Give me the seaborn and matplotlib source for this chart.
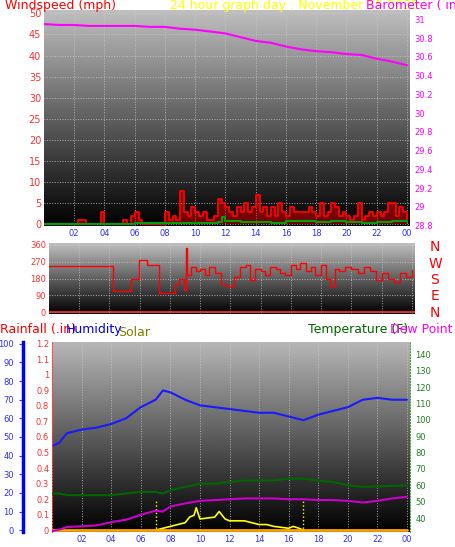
import numpy as np
import pandas as pd
import matplotlib
matplotlib.use("Agg")
import matplotlib.pyplot as plt
import seaborn as sns

sns.set_style("white")
plt.rcParams['font.family'] = ['DejaVu Sans']

# ---------------- data ----------------
wind_t = [i * 0.25 for i in range(97)]
wind_gust = [0,0,0,0,0,0,0,0,0,1,1,0,0,0,0,3,0,0,0,0,0,1,0,2,3,1,0,0,0,0,0,0,
             3,1,2,1,8,3,2,4,3,2,3,1,1,2,6,5,4,3,2,4,3,5,3,4,7,3,4,2,4,2,5,3,
             2,4,3,3,3,3,4,3,2,5,2,3,5,4,2,3,2,1,2,5,1,2,3,2,3,2,3,5,5,2,4,3,1]
avg_t = [0, 6, 9, 11.5, 11.75, 12, 13, 14, 15, 16, 17, 18, 19, 20, 21, 22, 23, 24]
wind_avg = [0, 0.2, 0.3, 0.6, 1.8, 0.8, 0.5, 0.6, 0.4, 0.8, 0.7, 0.6, 0.8, 0.5, 0.4, 0.6, 0.8, 0.5]

baro_t = list(range(25))
baro = [30.95, 30.94, 30.94, 30.93, 30.93, 30.93, 30.93, 30.92, 30.92, 30.90, 30.89,
        30.87, 30.85, 30.81, 30.77, 30.75, 30.71, 30.68, 30.66, 30.65, 30.63, 30.62,
        30.58, 30.55, 30.51]

dir_t = [0, 4.2, 5.4, 5.95, 6.5, 7.3, 8.3, 8.6, 8.9, 9.05, 9.15, 9.4, 9.7, 10, 10.3, 10.6,
         11, 11.4, 11.8, 12.2, 12.6, 13, 13.3, 13.6, 14, 14.3, 14.6, 15, 15.3, 15.6, 16,
         16.3, 16.6, 17, 17.3, 17.6, 18, 18.3, 18.6, 18.9, 19.2, 19.6, 20, 20.4, 20.8,
         21.2, 21.6, 22, 22.4, 22.8, 23.2, 23.6, 24]
direction = [245, 115, 175, 280, 250, 105, 150, 180, 120, 340, 200, 240, 220, 230, 200, 240,
             210, 150, 140, 190, 240, 250, 170, 230, 220, 200, 240, 230, 210, 200, 250,
             230, 260, 220, 240, 200, 250, 180, 140, 230, 220, 240, 230, 210, 240,
             220, 170, 210, 180, 160, 210, 190, 225]

bt = [0, 0.5, 1, 2, 3, 4, 5, 6, 7, 7.5, 8, 9, 10, 11, 12, 13, 14, 15, 16, 17, 18, 19, 20, 21, 22, 23, 24]
humidity = [45, 47, 52, 54, 55, 57, 60, 66, 70, 75, 74, 70, 67, 66, 65, 64, 63, 63, 61, 59,
            62, 64, 66, 70, 71, 70, 70]
temp_f = [55, 55, 54, 54, 54, 54, 55, 56, 56, 55, 57, 59, 61, 61, 62, 63, 63, 63, 64, 64,
          63, 62, 60, 59, 60]
temp_t = [0, 0.5, 1, 2, 3, 4, 5, 6, 7, 7.5, 8, 9, 10, 11, 12, 13, 14, 15, 16, 17, 18, 19, 20, 21, 24]
dew_f = [32, 33, 34.5, 35, 35.5, 37.5, 39, 42, 44.5, 44, 47, 49, 50.5, 51, 51.5, 52, 52, 52,
         51.5, 51.5, 51, 51, 50.5, 49.5, 50.5, 52, 53]
solar_t = [7, 7.5, 8, 8.5, 9, 9.3, 9.6, 9.75, 10, 10.5, 11, 11.3, 11.7, 12, 13, 13.5, 14,
           14.5, 15, 15.5, 16, 16.3, 16.7, 17]
solar = [0, 1, 2, 3, 4, 7, 8, 12, 6, 6.5, 7, 10, 6, 5, 5, 4, 3, 3, 2, 1.5, 1, 2, 1, 0]
rain_t = [0, 24]
rain = [0, 0]
hour_ticks = [2, 4, 6, 8, 10, 12, 14, 16, 18, 20, 22, 24]
hour_labels = ['02', '04', '06', '08', '10', '12', '14', '16', '18', '20', '22', '00']

# ---------------- figure ----------------
W, H = 456, 547
fig = plt.figure(figsize=(W / 100, H / 100), dpi=100, facecolor='white')

def ax_px(x0, y0, x1, y1):
    return fig.add_axes([x0 / W, 1 - y1 / H, (x1 - x0) / W, (y1 - y0) / H])

def bg(ax, top=0.75):
    g = np.linspace(top, 0.0, 256).reshape(-1, 1)
    ax.imshow(g, cmap='gray', vmin=0, vmax=1, aspect='auto',
              extent=[0, 24.2, 0, 1], transform=ax.transAxes, zorder=0)

def style(ax, xlabels=True, tick_col='#3030ff'):
    ax.set_xlim(0, 24.2)
    ax.set_xticks(hour_ticks)
    ax.set_xticklabels(hour_labels if xlabels else [], fontsize=6, color=tick_col)
    ax.grid(True, color='#c8c8c8', linestyle=':', linewidth=0.7, alpha=0.8)
    for s in ax.spines.values():
        s.set_visible(False)
    ax.tick_params(length=0, pad=2)

# Top panel
ax1 = ax_px(44, 10, 410, 226)
bg(ax1, 0.75)
ax1.set_ylim(-0.4, 50.8)
ax1.set_yticks(range(0, 51, 5))
ax1.tick_params(axis='y', labelsize=7, labelcolor='#ff3030')
style(ax1)
ax1.set_xticklabels(hour_labels, fontsize=6, color='#3030ff')
ax1.fill_between(wind_t, wind_gust, step='post', color='#ff0000', alpha=0.45, zorder=2,
                 linewidth=0)
sns.lineplot(x=wind_t, y=wind_gust, ax=ax1, color='#ff0000', linewidth=1.3,
             drawstyle='steps-post', zorder=3)
sns.lineplot(x=avg_t, y=wind_avg, ax=ax1, color='#00a000', linewidth=1.5,
             drawstyle='steps-post', zorder=4)
ax1.set_xlabel(''); ax1.set_ylabel('')
ax1b = ax1.twinx()
ax1b.set_ylim(28.795, 31.1)
ax1b.set_yticks([round(28.8 + 0.2 * i, 1) for i in range(12)])
ax1b.set_yticklabels(['28.8', '29', '29.2', '29.4', '29.6', '29.8', '30', '30.2', '30.4',
                      '30.6', '30.8', '31'])
ax1b.tick_params(axis='y', labelsize=6, labelcolor='#ff00ff', length=0, pad=3)
for s in ax1b.spines.values():
    s.set_visible(False)
sns.lineplot(x=baro_t, y=baro, ax=ax1b, color='#ff00ff', linewidth=1.5)
ax1b.set_ylabel('')

fig.text(5 / W, 1 - 6 / H, 'Windspeed (mph)', color='#ff0000', fontsize=9, va='center')
fig.text(170 / W, 1 - 6 / H, '24 hour graph day : November 15 2025', color='#ffff00',
         fontsize=9, va='center')
fig.text(366 / W, 1 - 6 / H, 'Barometer ( in)', color='#ff00ff', fontsize=9, va='center')

# Middle panel
ax2 = ax_px(49, 243, 415, 314)
bg(ax2, 0.75)
ax2.set_ylim(-8, 368)
ax2.set_yticks([0, 90, 180, 270, 360])
ax2.tick_params(axis='y', labelsize=6, labelcolor='#ff3030')
style(ax2, xlabels=False)
sns.lineplot(x=dir_t, y=direction, ax=ax2, color='#ff0000', linewidth=1.0,
             drawstyle='steps-post')
ax2.axhline(0, color='#ff3030', linewidth=1.2)
ax2.set_xlabel(''); ax2.set_ylabel('')
for i, c in enumerate(['N', 'W', 'S', 'E', 'N']):
    fig.text(435 / W, 1 - (247 + i * 16.5) / H, c, color='#ff0000', fontsize=10,
             ha='center', va='center')

# Bottom panel
ax3 = ax_px(52, 342, 410, 532)
bg(ax3, 0.72)
ax3.set_ylim(-1, 101)
ax3.set_yticks([])
style(ax3)
ax3.set_xticklabels(hour_labels, fontsize=6, color='#3030ff')
sns.lineplot(x=bt, y=humidity, ax=ax3, color='#1a1aff', linewidth=1.5)
sns.lineplot(x=solar_t, y=solar, ax=ax3, color='#ffff00', linewidth=1.2)
ax3.axvline(7, ymax=0.17, color='#ffff00', linestyle=':', linewidth=1)
ax3.axvline(17, ymax=0.17, color='#ffff00', linestyle=':', linewidth=1)
ax3.set_xlabel(''); ax3.set_ylabel('')

ax3r = ax3.twinx()
ax3r.set_ylim(-0.012, 1.212)
ax3r.yaxis.set_ticks_position('left')
ax3r.set_yticks([round(0.1 * i, 1) for i in range(13)])
ax3r.set_yticklabels(['0', '0.1', '0.2', '0.3', '0.4', '0.5', '0.6', '0.7', '0.8', '0.9',
                      '1', '1.1', '1.2'])
ax3r.tick_params(axis='y', labelsize=6, labelcolor='#ff3030', length=0, pad=2)
for s in ax3r.spines.values():
    s.set_visible(False)
ax3r.spines['left'].set_visible(True)
ax3r.spines['left'].set_color('#ff4040')
ax3r.spines['left'].set_linestyle(':')
sns.lineplot(x=rain_t, y=rain, ax=ax3r, color='#ffa000', linewidth=2)
ax3r.set_ylabel('')

ax3h = ax3.twinx()
ax3h.set_ylim(-1, 101)
ax3h.spines['left'].set_position(('outward', 21))
ax3h.yaxis.set_ticks_position('left')
ax3h.set_yticks(range(0, 101, 10))
ax3h.tick_params(axis='y', labelsize=6, labelcolor='#3030ff', colors='#3030ff', length=3)
ax3h.tick_params(axis='y', labelcolor='#3030ff')
for s in ax3h.spines.values():
    s.set_visible(False)
ax3h.spines['left'].set_visible(True)
ax3h.spines['left'].set_color('#0000ff')
ax3h.spines['left'].set_linewidth(2.5)

ax3t = ax3.twinx()
ax3t.set_ylim(31.5, 147.5)
ax3t.set_yticks(range(40, 141, 10))
ax3t.tick_params(axis='y', labelsize=6, labelcolor='#208020', length=0, pad=4)
for s in ax3t.spines.values():
    s.set_visible(False)
ax3t.spines['right'].set_visible(True)
ax3t.spines['right'].set_color('#40a040')
ax3t.spines['right'].set_linestyle(':')
sns.lineplot(x=temp_t, y=temp_f, ax=ax3t, color='#006600', linewidth=1.5)
sns.lineplot(x=bt, y=dew_f, ax=ax3t, color='#cc00cc', linewidth=1.5)
ax3t.set_ylabel('')

fig.text(0 / W, 1 - 329 / H, 'Rainfall (.in)', color='#ff0000', fontsize=9, va='center')
fig.text(66 / W, 1 - 329 / H, 'Humidity', color='#0000ff', fontsize=9, va='center')
fig.text(118 / W, 1 - 333 / H, 'Solar', color='#808000', fontsize=9, va='center')
fig.text(308 / W, 1 - 329 / H, 'Temperature (F)', color='#006600', fontsize=9, va='center')
fig.text(390 / W, 1 - 329 / H, 'Dew Point (', color='#ff00ff', fontsize=9, va='center')

fig.savefig('out.png', dpi=100, facecolor='white')
